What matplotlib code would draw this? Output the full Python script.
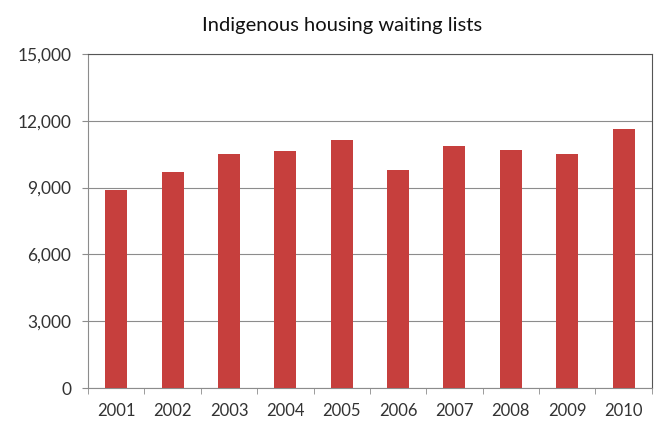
import matplotlib
matplotlib.use("Agg")
import matplotlib.pyplot as plt
import numpy as np

plt.rcParams['font.family'] = ['Lato', 'DejaVu Sans']

years = ['2001', '2002', '2003', '2004', '2005', '2006', '2007', '2008', '2009', '2010']
waiting = [8900, 9700, 10500, 10650, 11150, 9800, 10850, 10700, 10500, 11650]
yticks = [0, 3000, 6000, 9000, 12000, 15000]

fig = plt.figure(figsize=(6.57, 4.25), dpi=100)
ax = fig.add_axes([0.134, 0.087, 0.858, 0.786])

x = np.arange(len(years))
ax.bar(x, waiting, width=0.39, color='#C63F3D', zorder=3)

ax.set_xlim(-0.5, len(years) - 0.5)
ax.set_ylim(0, 15000)
ax.set_yticks(yticks)
ax.set_yticklabels([f'{v:,}' for v in yticks])
ax.set_xticks(x)
ax.set_xticklabels(years)
# tick marks sit between categories
ax.set_xticks(np.arange(-0.5, len(years) + 0.5, 1), minor=True)
ax.tick_params(axis='x', which='major', length=0, pad=11, labelsize=12)
ax.tick_params(axis='x', which='minor', length=4, color='#8c8c8c', direction='out')
ax.tick_params(axis='y', length=4, color='#8c8c8c', pad=8, labelsize=12.5)
ax.tick_params(labelcolor='#333333')

ax.grid(axis='y', color='#8c8c8c', linewidth=0.8, zorder=0)
for s in ['top', 'right']:
    ax.spines[s].set_color('#555555')
    ax.spines[s].set_linewidth(0.8)
for s in ['left', 'bottom']:
    ax.spines[s].set_color('#8c8c8c')
    ax.spines[s].set_linewidth(0.8)

fig.text(0.52, 0.941, 'Indigenous housing waiting lists', ha='center', va='center',
         fontsize=14.5, color='#111111')

fig.savefig('out.png', dpi=100)
